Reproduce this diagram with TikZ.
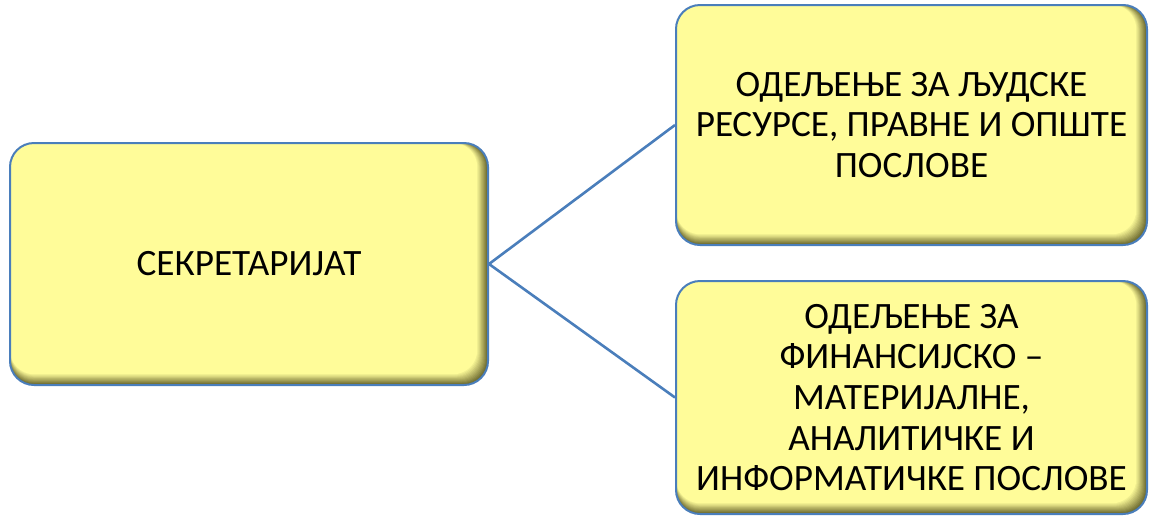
\documentclass[tikz,border=0pt]{standalone}
\usepackage{fontspec}
\setmainfont{Carlito}
\begin{document}
\begin{tikzpicture}[x=1pt,y=-1pt]
\useasboundingbox (0,0) rectangle (1150,517);
\definecolor{boxfill}{RGB}{255,252,153}
\definecolor{bevelc}{RGB}{105,103,45}
\definecolor{edgec}{RGB}{74,126,187}
\tikzset{
  box/.style={draw=edgec, line width=2pt, rounded corners=24pt, align=center,
    font=\fontsize{37.2}{40.7}\selectfont, inner sep=0pt},
  conn/.style={draw=edgec, line width=2.6pt}
}
\newcommand\bevelbox[4]{%
  \foreach \i in {0,...,12}{%
    \pgfmathtruncatemacro\pc{\i*100/12}%
    \fill[boxfill!\pc!bevelc, rounded corners=24pt] (#1,#2) rectangle ({#3-\i*0.9},{#4-\i*0.9});
  }}
\bevelbox{10}{143}{488}{385}
\bevelbox{676}{5}{1147}{245}
\bevelbox{676}{281}{1147}{514}
\node[box, minimum width=478pt, minimum height=242pt] (s) at (249,264) {СЕКРЕТАРИЈАТ};
\node[box, minimum width=471pt, minimum height=240pt] (t) at (911.5,125) {ОДЕЉЕЊЕ ЗА ЉУДСКЕ\\РЕСУРСЕ, ПРАВНЕ И ОПШТЕ\\ПОСЛОВЕ};
\node[box, minimum width=471pt, minimum height=233pt] (b) at (911.5,397.5) {ОДЕЉЕЊЕ ЗА\\ФИНАНСИЈСКО –\\МАТЕРИЈАЛНЕ,\\АНАЛИТИЧКЕ И\\ИНФОРМАТИЧКЕ ПОСЛОВЕ};
\draw[conn] (s.east) -- (t.west);
\draw[conn] (s.east) -- (b.west);
\end{tikzpicture}
\end{document}
